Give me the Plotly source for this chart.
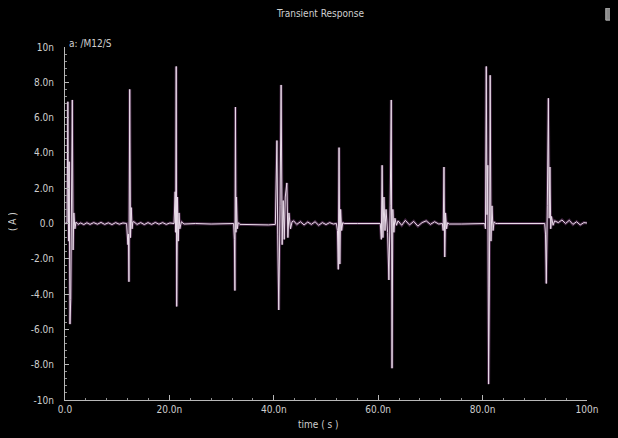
import plotly.graph_objects as go

# Transient response of /M12/S : time in ns, current in nA
time_ns = [
    0.0, 0.4, 0.55, 0.7, 0.8, 0.95, 1.1, 1.25, 1.4, 1.55, 1.7, 1.9,
    2.1, 2.5, 3.0, 3.6, 4.2, 4.8, 5.5, 6.2, 6.9, 7.6, 8.3, 9.0, 9.7, 10.4, 11.1, 11.8,
    12.05, 12.15, 12.25, 12.4, 12.55, 12.7, 12.85, 13.0,
    13.2, 13.8, 14.5, 15.2, 15.9, 16.6, 17.3, 18.0, 18.7, 19.4, 20.1, 20.9,
    21.1, 21.2, 21.3, 21.4, 21.55, 21.7, 21.85, 22.0, 22.3,
    22.8, 25.0, 28.0, 31.0, 32.3,
    32.45, 32.55, 32.65, 32.75, 32.85, 33.0, 33.2,
    33.5, 36.0, 39.0, 40.3,
    40.6, 40.75, 40.95, 41.2, 41.4, 41.6, 41.8, 42.0, 42.2, 42.5, 42.7, 42.9, 43.2, 43.5,
    43.8, 44.4, 45.1, 45.8, 46.5, 47.2, 47.9, 48.6, 49.3, 50.0, 50.7, 51.4, 52.0,
    52.2, 52.35, 52.5, 52.65, 52.8, 53.0, 53.2,
    53.5, 56.0, 59.0, 60.4,
    60.6, 60.75, 60.9, 61.1, 61.3, 61.5, 61.8, 62.05, 62.3, 62.5, 62.65, 62.8, 63.0, 63.2, 63.5,
    63.8, 64.5, 65.2, 66.0, 66.8, 67.6, 68.4, 69.2, 70.0, 70.8, 71.6, 72.3,
    72.45, 72.6, 72.75, 72.9, 73.1, 73.3,
    73.6, 76.0, 79.0, 80.4,
    80.55, 80.7, 80.85, 81.0, 81.15, 81.3, 81.45, 81.6, 81.8, 82.0, 82.2, 82.5,
    82.8, 86.0, 89.0, 91.9,
    92.05, 92.2, 92.4, 92.6, 92.75, 92.9, 93.05, 93.2, 93.5,
    93.8, 94.5, 95.2, 95.9, 96.6, 97.3, 98.0, 98.7, 99.4, 100.0,
]
current_nA = [
    0.0, 0.05, 6.9, -1.0, 3.5, -5.7, -4.3, 1.2, 7.0, -1.5, 0.6, -0.3,
    0.08, -0.05, 0.03, -0.06, 0.04, -0.05, 0.05, -0.04, 0.06, -0.05, 0.04, -0.06, 0.05, -0.04, 0.03, 0.0,
    -1.2, -0.6, -3.3, 7.6, -0.8, 0.9, -0.3, 0.1,
    0.1, -0.05, 0.05, -0.06, 0.05, -0.05, 0.06, -0.04, 0.05, -0.05, 0.03, 0.0,
    1.8, -0.5, 8.9, -4.7, 1.5, -1.0, 0.6, -0.3, 0.1,
    -0.03, 0.0, -0.03, 0.0, 0.0,
    -0.9, -3.8, 6.6, -0.5, 1.5, -0.3, 0.05,
    -0.05, -0.08, -0.08, -0.05,
    4.7, -0.6, -4.9, 1.0, 7.85, -1.2, 1.3, -0.9, 1.5, 2.3, -0.8, 0.6, -0.3, 0.1,
    0.15, -0.05, 0.1, -0.08, 0.08, -0.05, 0.1, -0.1, 0.05, -0.06, 0.05, -0.03, 0.0,
    -0.4, -2.6, 4.3, -2.3, 0.8, -0.4, 0.05,
    0.0, 0.0, 0.0, 0.0,
    -0.9, 3.3, -0.8, 1.5, -0.4, 0.8, -0.5, -3.2, 1.0, 7.0, -8.2, 0.8, -0.5, 0.3, -0.1,
    0.15, -0.1, 0.18, -0.08, 0.12, -0.15, 0.05, 0.15, -0.05, 0.1, -0.03, 0.0,
    -0.4, 3.2, -1.9, 0.6, -0.3, 0.05,
    -0.03, -0.03, 0.0, 0.0,
    -0.3, 8.9, 0.5, 3.3, -9.1, -3.6, 8.4, -1.0, 1.0, -0.4, 0.1, 0.0,
    0.0, 0.0, 0.0, 0.0,
    -0.6, -3.4, 1.0, 7.1, 0.3, 3.2, -0.3, 0.4, -0.1,
    0.15, 0.05, 0.2, 0.0, 0.18, -0.05, 0.1, -0.08, 0.05, 0.03,
]

x_tickvals = [0, 20, 40, 60, 80, 100]
x_ticktext = ["0.0", "20.0n", "40.0n", "60.0n", "80.0n", "100n"]
y_tickvals = [10, 8, 6, 4, 2, 0, -2, -4, -6, -8, -10]
y_ticktext = ["10n", "8.0n", "6.0n", "4.0n", "2.0n", "0.0",
              "-2.0n", "-4.0n", "-6.0n", "-8.0n", "-10n"]

TXT = "#cfcfcf"
FONT = "Liberation Sans Narrow, DejaVu Sans Condensed, Liberation Sans, sans-serif"

fig = go.Figure()
fig.add_trace(go.Scatter(x=time_ns, y=current_nA, mode="lines",
                         line=dict(color="rgba(180,100,180,0.35)", width=3),
                         hoverinfo="skip", showlegend=False))
fig.add_trace(go.Scatter(x=time_ns, y=current_nA, mode="lines",
                         line=dict(color="#eadcea", width=1),
                         showlegend=False))

fig.update_layout(
    width=618, height=438,
    margin=dict(l=57, r=39, t=39, b=46),
    paper_bgcolor="black", plot_bgcolor="black",
    font=dict(family=FONT, size=10, color=TXT),
    showlegend=False,
)
fig.update_xaxes(range=[0, 100], showgrid=False, zeroline=False,
                 showline=True, linecolor="#b8b8b8", linewidth=1,
                 tickvals=x_tickvals, ticktext=x_ticktext,
                 ticks="inside", ticklen=5, tickcolor="#b8b8b8",
                 minor=dict(dtick=4, ticks="inside", ticklen=2, tickcolor="#909090"),
                 tickfont=dict(size=10, color=TXT))
fig.update_yaxes(range=[-10, 10], showgrid=False, zeroline=False,
                 showline=True, linecolor="#b8b8b8", linewidth=1,
                 tickvals=y_tickvals, ticktext=y_ticktext,
                 ticks="inside", ticklen=4, tickcolor="#b8b8b8",
                 minor=dict(dtick=0.4, ticks="inside", ticklen=2, tickcolor="#909090"),
                 ticklabelstandoff=8,
                 tickfont=dict(size=10, color=TXT))

anns = [
    dict(text="Transient Response", x=0.4885, y=1.0935, font=dict(size=10)),
    dict(text="time ( s )", x=0.4847, y=-0.068, font=dict(size=10)),
    dict(text="( A )", x=-0.1015, y=0.504, textangle=-90, font=dict(size=10)),
    dict(text="a: /M12/S", x=0.004, y=1.011, xanchor="left", font=dict(size=10)),
]
for a in anns:
    a.setdefault("xanchor", "center")
    fig.add_annotation(xref="paper", yref="paper", showarrow=False,
                       yanchor="middle", **a)

fig.add_shape(type="rect", xref="paper", yref="paper",
              x0=1.036, x1=1.048, y0=1.076, y1=1.110,
              line=dict(color="#b0b0b0", width=1), fillcolor="#8a8a8a")

fig.write_html("out.html",
               post_script="document.body.style.backgroundColor='black';")
